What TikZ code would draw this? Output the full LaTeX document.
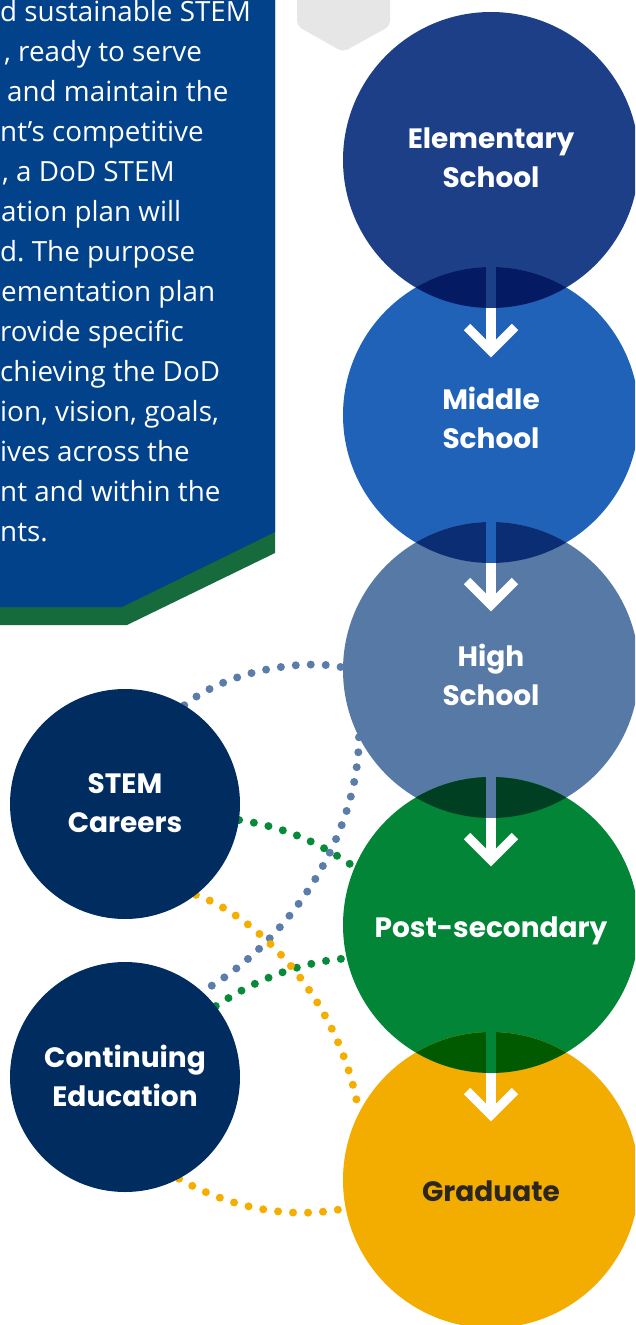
\documentclass[tikz,border=0pt]{standalone}
\usepackage{fontspec}
\setmainfont{Open Sans}
\newfontfamily\lblfont{Poppins}
\usetikzlibrary{backgrounds}
\frenchspacing
\definecolor{panelblue}{HTML}{02428A}
\definecolor{panelgreen}{HTML}{156B3B}
\definecolor{hexgray}{HTML}{E6E6E6}
\definecolor{elemc}{HTML}{1D3F87}
\definecolor{midc}{HTML}{2062B7}
\definecolor{highc}{HTML}{5679A5}
\definecolor{postc}{HTML}{038538}
\definecolor{gradc}{HTML}{F3AC00}
\definecolor{navy}{HTML}{002C5F}
\definecolor{ovA}{HTML}{041A62}
\definecolor{ovB}{HTML}{0B2D73}
\definecolor{ovC}{HTML}{013F22}
\definecolor{ovD}{HTML}{025A00}
\definecolor{dotblue}{HTML}{5B7DAA}
\definecolor{dotgreen}{HTML}{078A3A}
\definecolor{dotyellow}{HTML}{F5AD00}
\definecolor{gradtext}{HTML}{2B2620}
\begin{document}
\frenchspacing
\begin{tikzpicture}[x=1pt,y=-1pt,
  bigc/.style={circle,minimum size=296pt,inner sep=0pt,draw=none},
  smallc/.style={circle,minimum size=230pt,inner sep=0pt,draw=none,fill=navy},
  lbl/.style={font=\lblfont\bfseries\fontsize{28}{39}\selectfont,text=white,align=center,anchor=base,inner sep=0pt},
  para/.style={font=\fontsize{27.8}{40}\selectfont\frenchspacing,text=white,anchor=base west,inner sep=0pt},
  link/.style={line width=8pt,line cap=round,dash pattern=on 0pt off 15pt},
  chev/.style={draw=white,line width=9pt,miter limit=10,line join=miter}
]
\useasboundingbox (0,0) rectangle (635,1325);
\clip (0,0) rectangle (635,1325);

% text panel
\fill[panelgreen] (-5,-5) -- (275,-5) -- (275,553) -- (127,625) -- (-5,625) -- cycle;
\fill[panelblue] (-5,-5) -- (275,-5) -- (275,532) -- (122,607) -- (-5,607) -- cycle;
\node[para] (p1) at (0,21) {d sustainable STEM};
\node[para] (p2) at (4,61) {, ready to serve};
\node[para] (p3) at (7,101) {and maintain the};
\node[para] (p4) at (0,141) {nt’s competitive};
\node[para] (p5) at (2,181) {, a DoD STEM};
\node[para] (p6) at (1,221) {ation plan will};
\node[para] (p7) at (0,261) {d. The purpose};
\node[para] (p8) at (1,301) {ementation plan};
\node[para] (p9) at (0,341) {rovide specific};
\node[para] (p10) at (0,381) {chieving the DoD};
\node[para] (p11) at (0,421) {ion, vision, goals,};
\node[para] (p12) at (0,461) {ives across the};
\node[para] (p13) at (0,501) {nt and within the};
\node[para] (p14) at (0,541) {nts.};

% gray tab
\fill[hexgray,rounded corners=5pt] (297,-10) -- (390,-10) -- (390,26) -- (343,52) -- (297,26) -- cycle;

% big circles
\node[bigc,fill=elemc] (elem) at (491,160) {};
\node[bigc,fill=midc] (mid) at (491,415) {};
\node[bigc,fill=highc] (high) at (491,670) {};
\node[bigc,fill=postc] (post) at (491,925) {};
\node[bigc,fill=gradc] (grad) at (491,1180) {};

% overlaps
\begin{scope}
  \clip (mid.center) circle[radius=148pt];
  \fill[ovA] (elem.center) circle[radius=148pt];
\end{scope}
\begin{scope}
  \clip (high.center) circle[radius=148pt];
  \fill[ovB] (mid.center) circle[radius=148pt];
\end{scope}
\begin{scope}
  \clip (post.center) circle[radius=148pt];
  \fill[ovC] (high.center) circle[radius=148pt];
\end{scope}
\begin{scope}
  \clip (grad.center) circle[radius=148pt];
  \fill[ovD] (post.center) circle[radius=148pt];
\end{scope}

% arrows
\fill[elemc] (486,267) rectangle (496,308);
\fill[white] (486,308) rectangle (496,351);
\draw[chev] (467,327) -- (491,351) -- (515,327);
\fill[midc] (486,522) rectangle (496,563);
\fill[white] (486,563) rectangle (496,605);
\draw[chev] (467,581) -- (491,605) -- (515,581);
\fill[highc] (486,777) rectangle (496,818);
\fill[white] (486,818) rectangle (496,860);
\draw[chev] (467,836) -- (491,860) -- (515,836);
\fill[postc] (486,1032) rectangle (496,1073);
\fill[white] (486,1073) rectangle (496,1115);
\draw[chev] (467,1091) -- (491,1115) -- (515,1091);

% labels on big circles (base = baseline of last line)
\node[lbl] (elemL) at (491,187) {Elementary\\School};
\node[lbl] (midL) at (491,448) {Middle\\School};
\node[lbl] (highL) at (491,705) {High\\School};
\node[lbl] (postL) at (491,937) {Post-secondary};
\node[lbl,text=gradtext] (gradL) at (491,1201) {Graduate};

% left circles
\node[smallc] (stem) at (125,804) {};
\node[smallc] (cont) at (125,1077) {};
\node[lbl] (stemL) at (125,832) {STEM\\Careers};
\node[lbl] (contL) at (125,1106) {Continuing\\Education};

% dotted connectors (behind circles)
\begin{scope}[on background layer]
\draw[link,dotblue] (stem.59) .. controls (225,672) and (300,658) .. (high.179);
\draw[link,dotblue] (high.207) .. controls (358,840) and (285,945) .. (cont.48);
\draw[link,dotgreen] (stem.-8) .. controls (290,828) and (322,845) .. (post.157);
\draw[link,dotgreen] (cont.38) .. controls (255,980) and (300,962) .. (post.193);
\draw[link,dotyellow] (stem.-52) .. controls (260,918) and (340,1000) .. (grad.153);
\draw[link,dotyellow] (cont.-62) .. controls (230,1208) and (290,1220) .. (grad.191);
\end{scope}
\end{tikzpicture}
\end{document}
